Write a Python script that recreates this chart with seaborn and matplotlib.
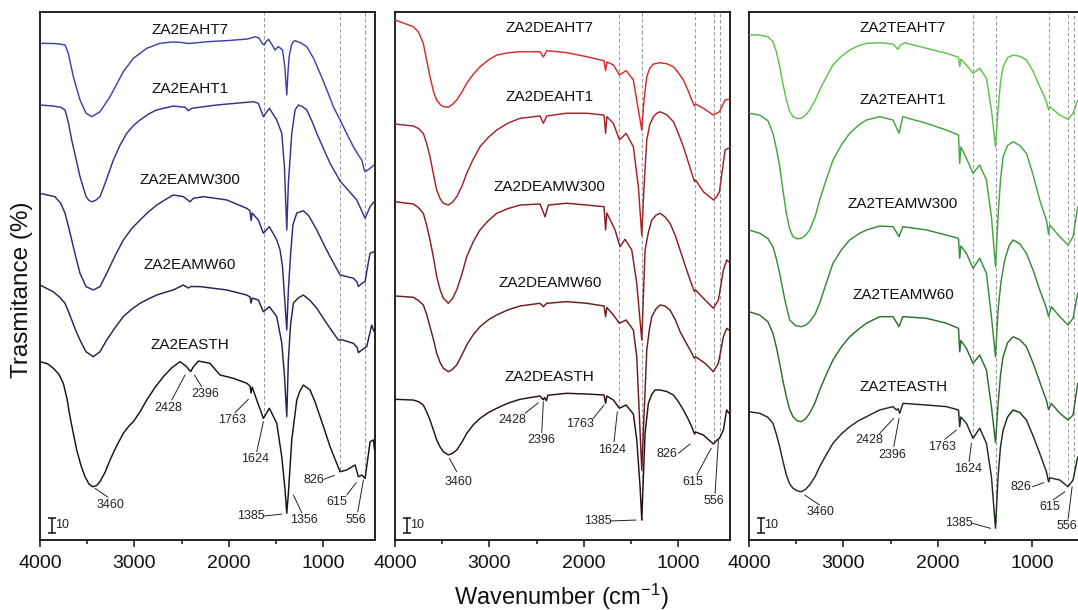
import numpy as np
import pandas as pd
import matplotlib
matplotlib.use("Agg")
import matplotlib.pyplot as plt
import seaborn as sns

# FTIR spectra: (wavenumber cm-1, transmittance % incl. stacking offset)
ea_ht7 = [(4000, 331.1), (3860, 331.0), (3790, 330.6), (3735, 330.0), (3700, 324.5), (3647, 308.9),
          (3576, 293.3), (3512, 284.5), (3452, 282.2), (3364, 285.5), (3258, 295.5), (3117, 312.2),
          (3011, 321.1), (2869, 327.8), (2728, 331.1), (2600, 332.0), (2500, 331.7), (2430, 331.0),
          (2200, 332.3), (2000, 333.0), (1800, 334.0), (1720, 335.5), (1680, 334.7), (1645, 331.0),
          (1624, 330.0), (1600, 332.5), (1578, 333.8), (1540, 330.0), (1509, 326.7), (1474, 328.9),
          (1430, 326.7), (1405, 315.0), (1385, 296.7), (1372, 312.0), (1360, 322.2), (1335, 330.0),
          (1315, 332.2), (1297, 332.9), (1240, 331.5), (1173, 328.9), (1100, 321.0), (1032, 311.1),
          (960, 300.0), (891, 288.9), (820, 280.0), (750, 271.0), (679, 262.2), (630, 257.0),
          (590, 253.3), (565, 247.0), (555, 245.5), (530, 246.5), (502, 247.8), (460, 250.0)]
ea_ht1 = [(4000, 290.0), (3860, 289.3), (3780, 288.5), (3735, 286.7), (3700, 278.5), (3664, 266.7),
          (3620, 254.5), (3576, 242.2), (3512, 228.9), (3480, 226.3), (3452, 225.5), (3410, 226.5),
          (3364, 228.9), (3300, 239.5), (3223, 253.3), (3150, 263.5), (3081, 271.1), (3010, 276.3),
          (2940, 280.0), (2850, 284.0), (2763, 286.7), (2587, 289.3), (2463, 288.5), (2428, 286.2),
          (2392, 287.8), (2127, 290.0), (1739, 292.2), (1686, 291.1), (1633, 282.2), (1569, 287.8),
          (1491, 280.0), (1438, 271.1), (1410, 248.9), (1385, 206.7), (1368, 237.8), (1332, 271.1),
          (1297, 286.7), (1262, 290.0), (1220, 289.0), (1173, 286.7), (1120, 279.5), (1067, 271.1),
          (1000, 261.5), (926, 251.1), (820, 239.3), (643, 226.7), (555, 214.5), (502, 222.2),
          (460, 225.5)]
ea_mw300 = [(4000, 231.1), (3842, 228.9), (3780, 224.5), (3735, 217.8), (3700, 209.5), (3664, 200.0),
            (3620, 188.5), (3576, 177.8), (3512, 168.9), (3435, 166.7), (3364, 168.9), (3293, 177.8),
            (3200, 190.0), (3117, 200.0), (3030, 207.5), (2940, 213.3), (2850, 218.8), (2763, 223.3),
            (2670, 227.0), (2587, 230.0), (2481, 228.9), (2410, 225.5), (2375, 227.8), (2269, 228.9),
            (2021, 226.7), (1809, 221.1), (1775, 219.5), (1763, 213.0), (1752, 218.0), (1686, 213.3),
            (1633, 204.5), (1569, 208.9), (1491, 200.0), (1456, 193.3), (1430, 182.2), (1410, 163.3),
            (1385, 140.0), (1368, 166.7), (1345, 190.0), (1320, 210.0), (1279, 218.0), (1209, 219.5),
            (1150, 216.0), (1067, 206.7), (1000, 198.0), (926, 188.9), (820, 176.7), (679, 174.5),
            (640, 172.0), (626, 168.9), (590, 171.1), (555, 172.2), (520, 185.3), (502, 191.1),
            (460, 192.2)]
ea_mw60 = [(4000, 170.0), (3860, 165.5), (3790, 161.8), (3735, 157.8), (3700, 152.5), (3664, 146.7),
           (3620, 139.5), (3576, 133.3), (3512, 125.5), (3435, 122.2), (3364, 125.5), (3293, 133.3),
           (3200, 142.0), (3117, 148.9), (3030, 153.8), (2940, 157.8), (2850, 160.8), (2763, 163.3),
           (2670, 165.2), (2587, 166.7), (2481, 170.0), (2428, 168.0), (2400, 169.0), (2300, 168.9),
           (2021, 166.7), (1809, 163.3), (1775, 162.0), (1763, 158.0), (1752, 161.3), (1686, 160.0),
           (1633, 152.2), (1569, 155.5), (1491, 148.9), (1438, 131.3), (1410, 110.0), (1385, 82.2),
           (1368, 120.0), (1345, 143.3), (1315, 158.0), (1260, 161.5), (1209, 163.3), (1140, 159.8),
           (1067, 154.5), (1000, 148.0), (926, 141.1), (838, 133.3), (800, 133.5), (679, 131.1),
           (640, 128.5), (626, 124.9), (590, 126.7), (538, 128.9), (485, 143.3), (460, 138.9)]
ea_sth = [(4000, 118.9), (3920, 117.5), (3859, 114.5), (3800, 110.5), (3753, 104.5), (3715, 94.5),
          (3682, 82.2), (3645, 70.5), (3611, 60.0), (3565, 49.5), (3523, 42.2), (3480, 37.2),
          (3442, 35.5), (3400, 36.3), (3364, 38.9), (3310, 45.2), (3258, 53.3), (3190, 62.5),
          (3117, 71.1), (3060, 75.8), (3011, 78.9), (2940, 85.5), (2869, 93.3), (2780, 101.8),
          (2693, 108.9), (2600, 115.0), (2516, 118.9), (2445, 115.5), (2428, 114.0), (2403, 112.3),
          (2375, 115.5), (2322, 119.3), (2200, 117.8), (2092, 110.0), (1951, 107.8), (1809, 104.5),
          (1775, 102.7), (1763, 98.0), (1752, 102.0), (1703, 93.3), (1633, 81.1), (1569, 87.8),
          (1491, 77.8), (1438, 55.5), (1403, 33.3), (1385, 17.8), (1368, 31.1), (1332, 66.7),
          (1279, 93.3), (1245, 99.5), (1209, 103.3), (1138, 100.0), (1085, 92.0), (1032, 82.2),
          (980, 72.5), (926, 62.2), (820, 45.5), (749, 46.7), (661, 50.0), (626, 42.2), (590, 43.3),
          (555, 41.1), (502, 65.5), (467, 66.7), (455, 60.0)]

dea_ht7 = [(4000, 346.7), (3806, 342.2), (3750, 338.5), (3700, 331.1), (3665, 320.0), (3629, 308.9),
           (3590, 298.5), (3558, 293.3), (3520, 290.3), (3488, 288.9), (3435, 288.5), (3390, 290.5),
           (3346, 293.3), (3290, 298.8), (3240, 304.5), (3170, 310.5), (3099, 315.5), (3010, 320.0),
           (2922, 323.3), (2800, 324.8), (2675, 325.5), (2463, 325.5), (2428, 322.0), (2392, 326.2),
           (2180, 324.9), (1968, 322.2), (1785, 319.5), (1768, 312.9), (1755, 318.7), (1686, 316.7),
           (1622, 310.0), (1551, 312.9), (1474, 306.7), (1421, 286.7), (1385, 273.3), (1361, 293.3),
           (1332, 308.9), (1300, 314.5), (1262, 317.3), (1191, 318.2), (1120, 317.5), (1050, 315.5),
           (1000, 311.8), (944, 306.7), (900, 300.5), (855, 293.3), (826, 289.3), (815, 290.7),
           (732, 287.8), (626, 283.3), (590, 284.5), (562, 285.5), (502, 293.3), (467, 293.8)]
dea_ht1 = [(4000, 277.3), (3806, 276.0), (3750, 274.3), (3700, 271.1), (3665, 264.5), (3629, 255.5),
           (3590, 243.0), (3558, 233.3), (3520, 227.3), (3488, 224.5), (3435, 223.3), (3390, 225.3),
           (3346, 228.9), (3290, 236.0), (3240, 244.5), (3170, 254.0), (3099, 262.2), (3010, 268.5),
           (2922, 273.3), (2800, 278.0), (2675, 281.1), (2463, 282.7), (2428, 277.8), (2392, 282.7),
           (2180, 284.5), (1968, 284.5), (1785, 283.3), (1768, 271.1), (1755, 282.2), (1686, 277.8),
           (1622, 266.7), (1551, 271.1), (1474, 262.2), (1421, 235.5), (1385, 203.0), (1361, 235.5),
           (1332, 266.7), (1300, 277.0), (1262, 282.2), (1225, 284.5), (1191, 285.5), (1120, 283.5),
           (1050, 278.9), (1000, 271.5), (944, 262.2), (900, 253.5), (855, 244.5), (826, 238.9),
           (815, 240.0), (732, 232.2), (626, 226.7), (590, 228.9), (562, 232.2), (502, 260.0),
           (467, 261.1)]
dea_mw300 = [(4000, 225.5), (3806, 224.0), (3750, 221.5), (3700, 217.8), (3665, 210.0), (3629, 200.0),
             (3590, 187.5), (3558, 175.5), (3520, 166.5), (3488, 161.3), (3435, 157.8), (3390, 161.0),
             (3346, 166.7), (3290, 177.5), (3240, 188.9), (3170, 199.0), (3099, 206.7), (3010, 213.0),
             (2922, 217.8), (2800, 221.0), (2675, 223.3), (2463, 224.0), (2410, 215.5), (2375, 223.3),
             (2180, 224.5), (1968, 223.3), (1785, 222.2), (1768, 206.7), (1755, 218.0), (1668, 206.7),
             (1615, 195.5), (1562, 200.5), (1491, 193.3), (1438, 171.1), (1385, 133.3), (1350, 193.3),
             (1315, 205.0), (1279, 213.3), (1235, 216.5), (1191, 217.8), (1140, 215.5), (1085, 211.1),
             (1030, 203.0), (979, 193.3), (925, 183.0), (873, 173.3), (827, 165.5), (815, 166.7),
             (714, 160.0), (626, 154.5), (573, 160.0), (520, 180.0), (484, 186.7), (460, 185.3)]
dea_mw60 = [(4000, 162.7), (3806, 161.8), (3750, 159.6), (3700, 156.7), (3665, 150.5), (3629, 142.2),
            (3590, 133.0), (3558, 124.5), (3520, 118.0), (3488, 114.5), (3435, 112.2), (3390, 113.8),
            (3346, 116.7), (3290, 123.5), (3240, 130.0), (3170, 137.0), (3099, 142.2), (3010, 146.8),
            (2922, 150.0), (2800, 153.5), (2675, 156.0), (2463, 157.8), (2428, 155.5), (2392, 157.8),
            (2180, 158.9), (1968, 157.8), (1785, 156.0), (1768, 148.9), (1755, 155.0), (1686, 150.0),
            (1622, 144.5), (1551, 146.7), (1474, 140.0), (1438, 122.2), (1385, 46.7), (1332, 126.7),
            (1305, 140.0), (1279, 148.9), (1235, 154.0), (1191, 156.7), (1140, 156.0), (1085, 153.3),
            (1030, 147.0), (979, 138.9), (925, 132.5), (873, 126.7), (827, 121.1), (815, 122.2),
            (714, 117.8), (626, 112.2), (573, 117.8), (520, 135.5), (484, 141.1), (460, 140.0)]
dea_sth = [(4000, 93.8), (3806, 93.3), (3750, 92.2), (3700, 90.0), (3665, 85.5), (3629, 80.0),
           (3590, 72.8), (3558, 66.7), (3520, 61.8), (3488, 58.9), (3435, 56.7), (3390, 57.8),
           (3346, 60.0), (3290, 65.3), (3240, 71.1), (3170, 76.8), (3099, 81.1), (3010, 85.0),
           (2922, 87.8), (2800, 91.3), (2675, 93.8), (2463, 96.0), (2430, 93.5), (2415, 95.0),
           (2396, 92.8), (2380, 96.5), (2180, 97.8), (1968, 97.3), (1785, 96.7), (1768, 91.1),
           (1755, 96.0), (1686, 93.3), (1622, 87.8), (1551, 90.0), (1474, 84.0), (1438, 66.7),
           (1403, 35.5), (1385, 13.3), (1372, 35.0), (1350, 71.1), (1315, 91.1), (1280, 97.0),
           (1244, 100.0), (1191, 100.0), (1120, 99.0), (1050, 96.7), (1000, 92.5), (944, 86.7),
           (900, 81.5), (855, 75.5), (826, 70.7), (815, 72.0), (732, 70.0), (626, 64.0), (590, 66.5),
           (562, 67.8), (520, 73.3), (485, 86.7), (462, 84.5)]

tea_ht7 = [(4000, 336.7), (3887, 336.7), (3800, 335.5), (3746, 332.2), (3710, 325.5), (3675, 315.5),
           (3640, 304.0), (3604, 293.3), (3570, 286.0), (3534, 282.2), (3490, 281.0), (3445, 281.1),
           (3400, 283.3), (3357, 286.7), (3300, 293.0), (3251, 300.0), (3180, 308.8), (3110, 316.7),
           (3020, 322.5), (2933, 326.7), (2840, 329.5), (2756, 331.1), (2615, 331.5), (2474, 330.7),
           (2421, 327.1), (2395, 330.0), (2350, 331.5), (2120, 327.8), (1908, 324.5), (1780, 321.8),
           (1767, 315.5), (1755, 320.5), (1696, 316.7), (1626, 311.1), (1555, 314.5), (1484, 307.8),
           (1431, 286.7), (1388, 262.2), (1361, 286.7), (1335, 305.0), (1307, 315.5), (1260, 321.5),
           (1202, 323.3), (1130, 322.5), (1060, 320.0), (990, 312.5), (919, 302.2), (880, 297.0),
           (848, 292.2), (826, 287.0), (813, 288.9), (707, 283.3), (619, 280.5), (566, 284.5),
           (516, 293.3)]
tea_ht1 = [(4000, 284.5), (3887, 283.3), (3800, 279.5), (3746, 271.1), (3710, 261.0), (3675, 248.9),
           (3640, 233.0), (3604, 217.8), (3570, 207.5), (3534, 202.2), (3490, 200.8), (3445, 201.1),
           (3400, 203.2), (3357, 206.7), (3300, 215.5), (3251, 226.7), (3180, 240.5), (3110, 253.3),
           (3020, 263.5), (2933, 271.1), (2840, 276.5), (2756, 280.0), (2615, 282.2), (2474, 280.0),
           (2410, 271.1), (2370, 282.2), (2120, 277.8), (1908, 273.3), (1780, 270.0), (1767, 251.1),
           (1755, 262.0), (1696, 254.5), (1626, 244.5), (1555, 250.0), (1484, 240.0), (1431, 215.5),
           (1388, 182.2), (1361, 215.5), (1335, 240.0), (1307, 255.5), (1260, 263.0), (1202, 265.5),
           (1130, 263.0), (1060, 257.8), (990, 243.5), (919, 226.7), (880, 219.0), (848, 213.3),
           (826, 204.0), (813, 210.0), (707, 202.2), (619, 196.7), (566, 202.2), (516, 222.2)]
tea_mw300 = [(4000, 206.7), (3887, 204.5), (3800, 201.0), (3746, 195.5), (3710, 187.5), (3675, 177.8),
             (3620, 160.0), (3569, 146.7), (3510, 143.0), (3445, 142.2), (3400, 143.2), (3357, 145.5),
             (3300, 150.5), (3251, 157.8), (3180, 171.5), (3110, 184.5), (3020, 193.5), (2933, 200.0),
             (2840, 204.0), (2756, 206.7), (2615, 209.3), (2474, 208.9), (2410, 202.2), (2370, 208.9),
             (2120, 206.7), (1908, 203.3), (1780, 201.1), (1767, 187.8), (1755, 196.0), (1696, 191.1),
             (1626, 181.1), (1555, 187.8), (1484, 177.8), (1431, 148.9), (1388, 122.2), (1361, 153.3),
             (1330, 172.0), (1290, 186.7), (1245, 196.0), (1202, 200.0), (1130, 197.5), (1060, 191.1),
             (990, 180.0), (919, 166.7), (880, 160.0), (848, 154.5), (826, 149.0), (795, 155.5),
             (707, 148.9), (619, 143.3), (566, 147.8), (516, 164.5)]
tea_mw60 = [(4000, 152.2), (3887, 150.0), (3800, 145.5), (3746, 137.8), (3710, 128.5), (3675, 117.8),
            (3640, 106.0), (3604, 95.5), (3570, 87.2), (3534, 82.2), (3490, 79.5), (3445, 78.9),
            (3400, 80.8), (3357, 84.5), (3300, 91.5), (3251, 100.0), (3180, 110.5), (3110, 120.0),
            (3020, 128.8), (2933, 135.5), (2840, 140.5), (2756, 144.5), (2615, 148.9), (2474, 148.9),
            (2410, 142.2), (2370, 148.9), (2120, 147.8), (1908, 144.5), (1780, 141.1), (1767, 125.5),
            (1755, 133.0), (1696, 127.8), (1626, 117.8), (1555, 123.3), (1484, 113.3), (1431, 88.9),
            (1388, 65.0), (1361, 90.0), (1335, 110.0), (1307, 122.2), (1260, 131.5), (1202, 135.5),
            (1130, 133.5), (1060, 128.9), (990, 118.0), (919, 105.5), (880, 98.5), (848, 93.0),
            (826, 87.0), (795, 91.0), (707, 84.5), (619, 80.0), (566, 83.3), (516, 104.5)]
tea_sth = [(4000, 85.5), (3887, 84.5), (3800, 81.8), (3746, 77.8), (3710, 70.5), (3675, 62.2),
           (3640, 52.5), (3604, 43.3), (3570, 37.5), (3534, 34.5), (3490, 32.8), (3445, 32.2),
           (3400, 33.8), (3357, 36.7), (3300, 42.2), (3251, 48.9), (3180, 57.0), (3110, 64.5),
           (3020, 70.8), (2933, 75.5), (2840, 79.5), (2756, 82.2), (2615, 86.7), (2474, 88.9),
           (2438, 86.7), (2420, 87.5), (2403, 84.5), (2368, 91.1), (2120, 90.0), (1908, 88.9),
           (1780, 86.7), (1767, 75.5), (1755, 82.0), (1696, 77.8), (1626, 67.8), (1555, 74.5),
           (1484, 64.5), (1431, 42.2), (1388, 7.8), (1361, 42.0), (1335, 62.0), (1307, 73.3),
           (1260, 82.0), (1202, 86.7), (1130, 85.0), (1060, 80.0), (990, 69.5), (919, 57.8),
           (880, 51.0), (848, 45.5), (826, 38.9), (813, 41.5), (707, 40.0), (619, 35.5), (566, 40.0),
           (516, 55.5)]

SAMPLES = ["HT7", "HT1", "MW300", "MW60", "STH"]
PREFIXES = ["ZA2EA", "ZA2DEA", "ZA2TEA"]
SPECTRA = [[ea_ht7, ea_ht1, ea_mw300, ea_mw60, ea_sth],
           [dea_ht7, dea_ht1, dea_mw300, dea_mw60, dea_sth],
           [tea_ht7, tea_ht1, tea_mw300, tea_mw60, tea_sth]]
COLORS = [["#4141ad", "#34348f", "#2b2b74", "#232352", "#151515"],
          ["#d72b2b", "#a82128", "#8a1d22", "#6a1c1e", "#2a1010"],
          ["#5ec44c", "#43a740", "#368b3a", "#2b6d30", "#1d2f1b"]]

# dashed marker lines (cm-1)
DASHED = [[1624, 826, 556],
          [1624, 1385, 826, 615, 556],
          [1624, 1385, 826, 615, 556]]

# sample name positions (x, y per trace)
NAME_X = [2410, 2360, 2367]
NAME_Y = [[340, 300.5, 240, 183.3, 130],
          [341.1, 295.5, 235.5, 171.1, 108.5],
          [341.1, 293.3, 224, 163.3, 102.2]]

# peak labels: text, text pos, leader line start, leader line end
PEAKS = [
    [("3460", (3258, 23.3), (3417, 34.5), (3280, 28.5)),
     ("2428", (2640, 87.8), (2463, 110), (2604, 93.3)),
     ("2396", (2251, 97.1), (2364, 110), (2286, 102.2)),
     ("1763", (1968, 80), (1792, 93.8), (1933, 84.9)),
     ("1624", (1721, 53.8), (1633, 78.9), (1703, 58.9)),
     ("1385", (1767, 16), (1622, 16), (1438, 17.3)),
     ("1356", (1202, 13.3), (1315, 30), (1226, 18.2)),
     ("826", (1096, 40), (990, 40.5), (880, 43.1)),
     ("615", (855, 25.3), (749, 30), (650, 38.2)),
     ("556", (650, 13.3), (632, 18.9), (573, 40))],
    [("3460", (3329, 38.9), (3424, 54.5), (3346, 45.5)),
     ("2428", (2753, 80), (2481, 91.5), (2622, 84.5)),
     ("2396", (2445, 66.7), (2428, 92.2), (2445, 71.5)),
     ("1763", (2039, 77.1), (1785, 90), (1898, 81.1)),
     ("1624", (1697, 60), (1644, 85.5), (1679, 65.5)),
     ("1385", (1855, 12.7), (1714, 12.7), (1446, 13.3)),
     ("826", (1113, 57.1), (997, 57.8), (873, 64)),
     ("615", (849, 38.9), (802, 43.3), (650, 61.1)),
     ("556", (626, 26.2), (608, 31.1), (573, 66.7))],
    [("3460", (3243, 18.9), (3410, 30), (3251, 23.3)),
     ("2428", (2731, 66.7), (2466, 81.1), (2615, 71.1)),
     ("2396", (2484, 56.7), (2410, 81.1), (2466, 62.2)),
     ("1763", (1950, 62.2), (1802, 73.3), (1926, 67.1)),
     ("1624", (1679, 47.3), (1643, 64.5), (1668, 52.2)),
     ("1385", (1777, 11.1), (1632, 11.1), (1441, 7.8)),
     ("826", (1113, 35.1), (996, 35.5), (876, 38.2)),
     ("615", (813, 21.8), (778, 26.7), (653, 32.2)),
     ("556", (636, 9.3), (619, 13.8), (576, 35.5))],
]

sns.set_style("ticks")
plt.rcParams["font.family"] = ["Liberation Sans", "DejaVu Sans"]
plt.rcParams["mathtext.fontset"] = "custom"
plt.rcParams["mathtext.rm"] = "Liberation Sans"
plt.rcParams["mathtext.it"] = "Liberation Sans:italic"

W, H = 1078, 610
fig = plt.figure(figsize=(W / 100, H / 100), dpi=100)
fig.patch.set_facecolor("white")

LEFTS = [40, 395, 749]
AX_W, AX_B, AX_T = 335, 540, 12

for p in range(3):
    ax = fig.add_axes([LEFTS[p] / W, (H - AX_B) / H, AX_W / W, (AX_B - AX_T) / H])
    names = [PREFIXES[p] + s for s in SAMPLES]
    rows = []
    for name, spec in zip(names, SPECTRA[p]):
        for wn, t in spec:
            rows.append((name, wn, t))
    df = pd.DataFrame(rows, columns=["sample", "wn", "T"])

    # dashed guides run from the top down to the bottom spectrum
    sth = np.array(SPECTRA[p][-1])
    for d in DASHED[p]:
        ybot = np.interp(d, sth[::-1, 0], sth[::-1, 1])
        ax.vlines(d, ybot, 352, colors="#9c9c9c", linestyles=(0, (3.2, 2.2)), lw=0.8, zorder=1)

    sns.lineplot(data=df, x="wn", y="T", hue="sample", hue_order=names, palette=COLORS[p],
                 estimator=None, sort=False, legend=False, lw=1.05, ax=ax, zorder=3)

    for name, y in zip(names, NAME_Y[p]):
        ax.text(NAME_X[p], y, name, ha="center", va="center", fontsize=11, color="#111111")

    for lab, (tx, ty), (x0, y0), (x1, y1) in PEAKS[p]:
        ax.plot([x0, x1], [y0, y1], color="#222222", lw=0.7, zorder=4)
        ax.text(tx, ty, lab, ha="center", va="center", fontsize=9, color="#222222")

    ax.errorbar(3878, 10, yerr=5, color="#111111", capsize=3.2, capthick=1.1, elinewidth=1.1)
    ax.text(3845, 10, "10", ha="left", va="center", fontsize=9, color="#222222")

    ax.set_xlim(4000, 450)
    ax.set_ylim(0, 352)
    ax.set_xticks([4000, 3000, 2000, 1000])
    ax.set_xticks([3500, 2500, 1500], minor=True)
    ax.set_yticks([])
    ax.set_xlabel("")
    ax.set_ylabel("")
    ax.tick_params(axis="x", which="major", direction="out", length=5, width=1.1,
                   labelsize=14, pad=6, top=False, colors="#111111", labelcolor="#111111")
    ax.tick_params(axis="x", which="minor", direction="out", length=3, width=1.1, top=False,
                   colors="#111111")
    for s in ax.spines.values():
        s.set_visible(True)
        s.set_linewidth(1.3)
        s.set_color("#111111")

fig.text(0.0205, 0.525, "Trasmitance (%)", rotation=90, ha="center", va="center",
         fontsize=17.5, color="#111111")
fig.text(0.521, 0.022, r"Wavenumber (cm$^{-1}$)", ha="center", va="center", fontsize=17,
         color="#111111")

fig.savefig("out.png", dpi=100)
